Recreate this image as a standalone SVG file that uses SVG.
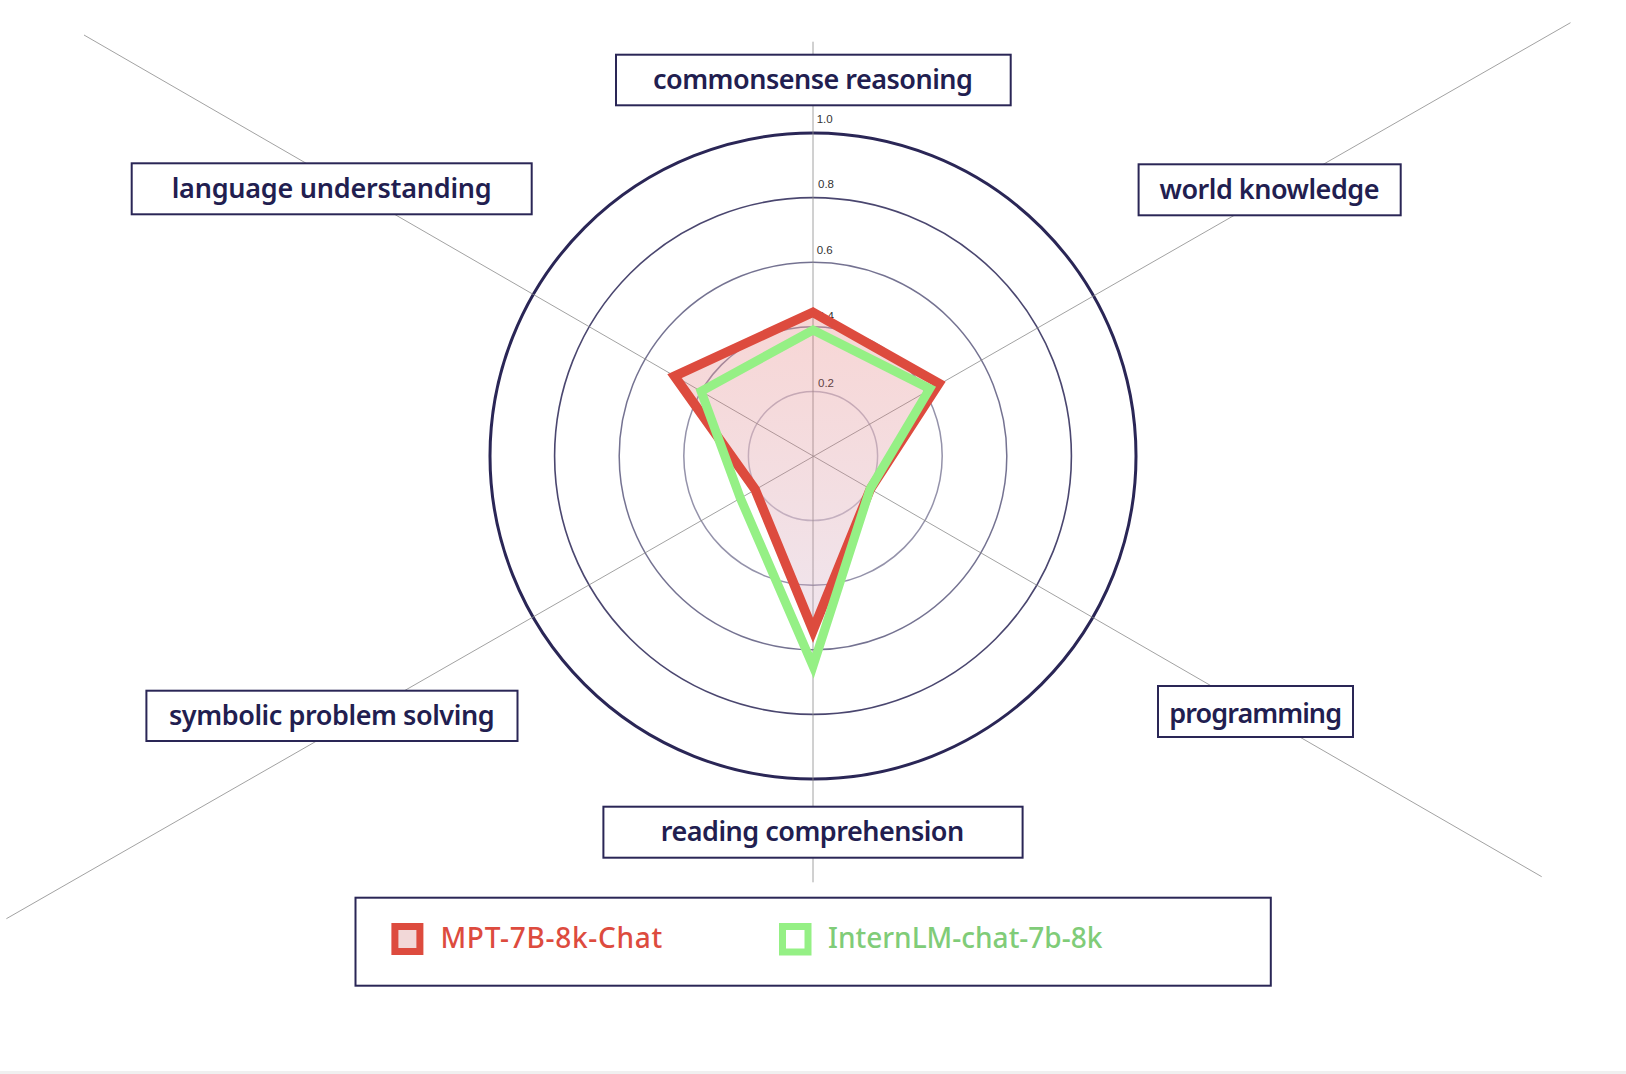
<svg xmlns="http://www.w3.org/2000/svg" width="1626" height="1074" viewBox="0 0 1626 1074">
  <style>
    .axis { stroke: #8a8a8a; stroke-width: 0.8; fill: none; }
    .grid { fill: none; stroke: #2a2656; }
    .tick { font-family: "Liberation Sans", Arial, sans-serif; font-size: 11.5px; fill: #333333; }
    .box { fill: #ffffff; stroke: #2a2656; stroke-width: 2; }
    .lbl { font-family: "Noto Sans", "Open Sans", sans-serif; font-weight: 600; font-size: 27px; fill: #221e50; text-anchor: middle; }
    .leg { font-family: "Noto Sans", "Open Sans", sans-serif; font-weight: 500; font-size: 28px; }
  </style>
  <defs>
    <linearGradient id="mptFill" x1="0" y1="306" x2="0" y2="640" gradientUnits="userSpaceOnUse">
      <stop offset="0" stop-color="#e05a55" stop-opacity="0.25"/>
      <stop offset="1" stop-color="#c8a6c4" stop-opacity="0.28"/>
    </linearGradient>
  </defs>
  <rect x="0" y="0" width="1626" height="1074" fill="#ffffff"/>
  <rect x="0" y="1071" width="1626" height="3" fill="#f0f0f0"/>

  <g id="grid">
    <circle class="grid" cx="813" cy="456" r="64.6" stroke-width="1.5" stroke-opacity="0.3"/>
    <circle class="grid" cx="813" cy="456" r="129.2" stroke-width="1.5" stroke-opacity="0.5"/>
    <circle class="grid" cx="813" cy="456" r="193.8" stroke-width="1.5" stroke-opacity="0.65"/>
    <circle class="grid" cx="813" cy="456" r="258.4" stroke-width="1.6" stroke-opacity="0.85"/>
    <circle class="grid" cx="813" cy="456" r="323" stroke-width="3" stroke="#1f1b4b"/>
  </g>

  <g id="connectors">
    <line class="axis" x1="813" y1="41.7" x2="813" y2="882.3"/>
    <line class="axis" x1="84" y1="35" x2="1541.7" y2="876.7"/>
    <line class="axis" x1="1570.5" y1="22.7" x2="6.4" y2="918.7"/>
  </g>

  <g id="ticks">
    <text class="tick" x="816.7" y="122.7">1.0</text>
    <text class="tick" x="818" y="188">0.8</text>
    <text class="tick" x="816.7" y="253.7">0.6</text>
    <text class="tick" x="818" y="320">0.4</text>
    <text class="tick" x="818" y="387">0.2</text>
  </g>

  <g id="series-mpt">
    <polygon points="813,312.3 938.9,383.3 870.3,489.1 813,630.4 755.1,489.4 674.5,376.1" fill="url(#mptFill)" stroke="#dd4b3e" stroke-width="9.5" stroke-linejoin="miter" stroke-miterlimit="10"/>
  </g>
  <g id="series-internlm">
    <polygon points="813,330 929.7,388.7 870.1,488.9 813,666 740.3,498 701.1,391.4" fill="none" stroke="#95f085" stroke-width="9" stroke-linejoin="miter" stroke-miterlimit="10"/>
  </g>

  <g id="node-commonsense">
    <rect class="box" x="616" y="54.7" width="394.7" height="50.6"/>
    <text class="lbl" x="813" y="89.3" textLength="320">commonsense reasoning</text>
  </g>
  <g id="node-language">
    <rect class="box" x="131.7" y="163.3" width="400" height="51"/>
    <text class="lbl" x="331.7" y="198.3" textLength="320">language understanding</text>
  </g>
  <g id="node-world">
    <rect class="box" x="1138.6" y="164.3" width="262.1" height="51"/>
    <text class="lbl" x="1269.5" y="199.3" textLength="220">world knowledge</text>
  </g>
  <g id="node-programming">
    <rect class="box" x="1158" y="686" width="195" height="51"/>
    <text class="lbl" x="1255.7" y="722.7" textLength="172.7">programming</text>
  </g>
  <g id="node-reading">
    <rect class="box" x="603.4" y="806.7" width="419.2" height="51"/>
    <text class="lbl" x="812.5" y="841" textLength="303.5">reading comprehension</text>
  </g>
  <g id="node-symbolic">
    <rect class="box" x="146.4" y="690.7" width="371.1" height="50.3"/>
    <text class="lbl" x="331.8" y="725" textLength="325.6">symbolic problem solving</text>
  </g>

  <g id="legend">
    <rect class="box" x="355.5" y="897.7" width="915.3" height="88"/>
    <rect x="394.9" y="926.5" width="25" height="25" fill="#f2d8d8" stroke="#dd4b3e" stroke-width="7"/>
    <text class="leg" x="440.4" y="948" fill="#dd4b3e" textLength="221.8">MPT-7B-8k-Chat</text>
    <rect x="782.5" y="926.5" width="25.5" height="25.5" fill="#ffffff" stroke="#95f085" stroke-width="7"/>
    <text class="leg" x="828" y="948" fill="#80cc78" textLength="274.4">InternLM-chat-7b-8k</text>
  </g>
</svg>
